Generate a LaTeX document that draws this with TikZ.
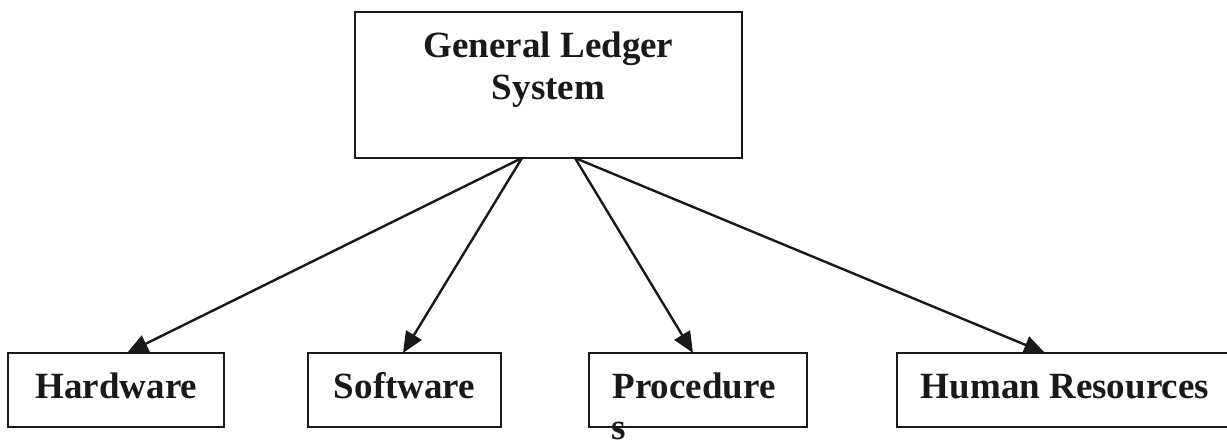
\documentclass[tikz,border=0pt]{standalone}
\usepackage{fontspec}
\setmainfont{Liberation Serif}
\usetikzlibrary{arrows.meta,calc}
\tikzset{
  box/.style={draw=black!90, line width=2.4pt, inner sep=0pt, outer sep=0pt, fill=white},
  lbl/.style={font=\bfseries\fontsize{37}{42}\selectfont, text=black!90, inner sep=0pt, anchor=base},
  conn/.style={draw=black!90, line width=2.4pt, -{Triangle[length=21pt,width=18pt]}}
}
\begin{document}
\begin{tikzpicture}[x=1pt,y=1pt]
\fill[white] (0,0) rectangle (1227,441);
\useasboundingbox (0,0) rectangle (1227,441);
% top box
\node[box, minimum width=387pt, minimum height=146pt] (gls) at (548.5,356) {};
\node[lbl] (glsA) at (548.5,383) {General Ledger};
\node[lbl] (glsB) at (548.5,341) {System};
% bottom boxes
\node[box, minimum width=216pt, minimum height=74pt] (hw) at (116,51) {};
\node[lbl] (hwT) at (116.5,42) {Hardware};
\node[box, minimum width=193pt, minimum height=74pt] (sw) at (404.5,51) {};
\node[lbl] (swT) at (404.5,42) {Software};
\node[box, minimum width=218pt, minimum height=74pt] (pr) at (698,51) {};
\node[lbl] (prT) at (694,42) {Procedure};
\node[lbl, anchor=base west] (prS) at (611,1) {s};
\node[box, minimum width=336pt, minimum height=74pt] (hr) at (1065,51) {};
\node[lbl] (hrT) at (1065,42) {Human Resources};
% connector origins
\coordinate (oL) at ($(gls.south)+(-26.5,0)$);
\coordinate (oR) at ($(gls.south)+(26.5,0)$);
\draw[conn] (oL) -- ($(hw.north)+(11,0)$);
\draw[conn] (oL) -- ($(sw.north)+(-1.5,0)$);
\draw[conn] (oR) -- ($(pr.north)+(-5,0)$);
\draw[conn] (oR) -- ($(hr.north)+(-20,0)$);
\end{tikzpicture}
\end{document}
